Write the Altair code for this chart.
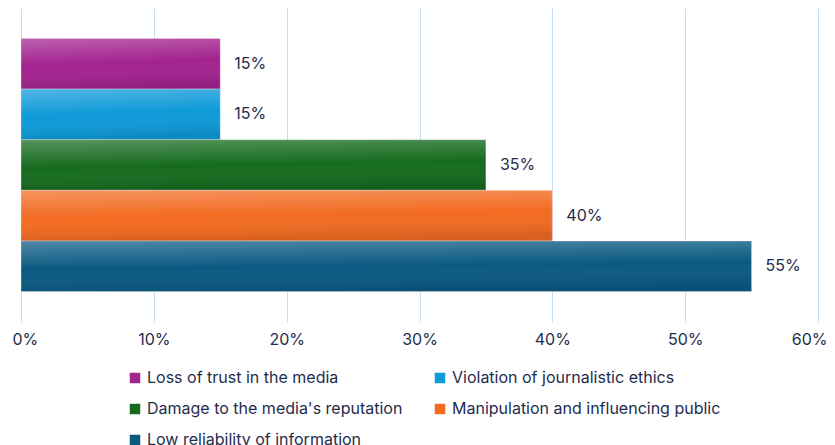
import altair as alt
import pandas as pd

categories = [
    "Loss of trust in the media",
    "Violation of journalistic ethics",
    "Damage to the media's reputation",
    "Manipulation and influencing public",
    "Low reliability of information",
]
values = [15, 15, 35, 40, 55]
colors = ["#a3238f", "#0e9ad8", "#166b1f", "#f26b21", "#0b5a82"]
x_ticks = [0, 10, 20, 30, 40, 50, 60]

# legend laid out column-major: reorder so rows read as in the reference
legend_order = [0, 2, 4, 1, 3]
legend_domain = [categories[i] for i in legend_order]
legend_range = [colors[i] for i in legend_order]

df = pd.DataFrame({"category": categories, "value": values})

FONT = "Inter"
TXT = "#1f2d4d"

y_enc = alt.Y(
    "category:N",
    sort=categories,
    axis=None,
    scale=alt.Scale(paddingInner=0, paddingOuter=0.6),
)
x_enc = alt.X(
    "value:Q",
    scale=alt.Scale(domain=[0, 60], nice=False),
    axis=alt.Axis(
        values=x_ticks,
        labelExpr="datum.value + '%'",
        title=None,
        domain=False,
        ticks=False,
        grid=True,
        gridColor="#c8dcf2",
        gridWidth=1,
        labelPadding=9,
        labelFlush=True,
        labelFlushOffset=9,
        labelFontSize=16,
        labelFont=FONT,
        labelColor=TXT,
    ),
)

base = alt.Chart(df)

bars = base.mark_bar(stroke="white", strokeOpacity=0.35, strokeWidth=1).encode(
    x=x_enc,
    y=y_enc,
    color=alt.Color(
        "category:N",
        scale=alt.Scale(domain=legend_domain, range=legend_range),
        legend=alt.Legend(
            title=None,
            orient="none",
            legendX=106,
            legendY=362,
            columns=2,
            columnPadding=29,
            rowPadding=15,
            symbolType="square",
            symbolSize=110,
            symbolStrokeWidth=0,
            labelFontSize=16,
            labelFont=FONT,
            labelColor=TXT,
            labelLimit=400,
            labelOffset=4,
        ),
    ),
)

shine = base.mark_bar(
    color=alt.Gradient(
        gradient="linear",
        x1=0, y1=0, x2=0.15, y2=1,
        stops=[
            alt.GradientStop(color="rgba(255,255,255,0.28)", offset=0),
            alt.GradientStop(color="rgba(255,255,255,0.0)", offset=0.55),
            alt.GradientStop(color="rgba(0,0,0,0.10)", offset=1),
        ],
    )
).encode(x="value:Q", y=alt.Y("category:N", sort=categories))

labels = base.transform_calculate(lbl="datum.value + '%'").mark_text(
    align="left", dx=14, fontSize=16, font=FONT, color=TXT
).encode(x="value:Q", y=alt.Y("category:N", sort=categories), text="lbl:N")

chart = (
    alt.layer(bars, shine, labels)
    .properties(
        width=797,
        height=314,
        autosize=alt.AutoSizeParams(type="none"),
        padding={"left": 13, "top": 0, "right": 9, "bottom": 140},
    )
    .configure_view(stroke=None)
)

chart.save("out.html", embed_options={"renderer": "svg", "actions": False})
